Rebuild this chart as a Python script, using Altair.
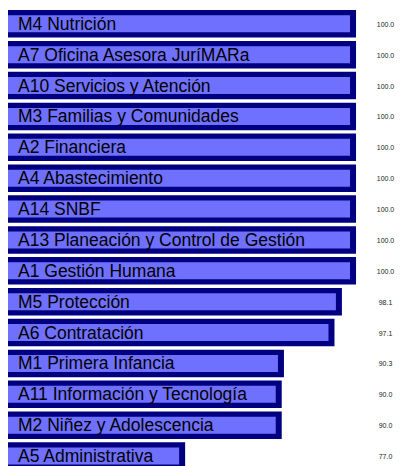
import altair as alt
import pandas as pd

categories = [
    "M4 Nutrición",
    "A7 Oficina Asesora JuríMARa",
    "A10 Servicios y Atención",
    "M3 Familias y Comunidades",
    "A2 Financiera",
    "A4 Abastecimiento",
    "A14 SNBF",
    "A13 Planeación y Control de Gestión",
    "A1 Gestión Humana",
    "M5 Protección",
    "A6 Contratación",
    "M1 Primera Infancia",
    "A11 Información y Tecnología",
    "M2 Niñez y Adolescencia",
    "A5 Administrativa",
]
values = [100.0, 100.0, 100.0, 100.0, 100.0, 100.0, 100.0, 100.0, 100.0,
          98.1, 97.1, 90.3, 90.0, 90.0, 77.0]

df = pd.DataFrame({"cat": categories, "val": values})

x_scale = alt.Scale(domain=[53.16, 105.245], nice=False, zero=False)
y_scale = alt.Scale(range=[0, 463.8], paddingInner=0.109, paddingOuter=0.0648)

base = alt.Chart(df).encode(
    y=alt.Y("cat:N", sort=categories, scale=y_scale, axis=None),
)

outer = base.mark_bar(color="#000080").encode(
    x=alt.X("val:Q", scale=x_scale, axis=None),
    x2=alt.value(1),
)

inner = base.mark_bar(color="#7070FF", size=17, xOffset=-6, x2Offset=6).encode(
    x=alt.X("val:Q", scale=x_scale, axis=None),
    x2=alt.value(1),
)

labels = base.mark_text(
    align="left", baseline="middle", font="Liberation Sans",
    fontSize=17.5, color="#000000", dy=1,
).encode(
    x=alt.value(10),
    text="cat:N",
)

vals = base.mark_text(
    align="center", baseline="middle", font="Liberation Sans",
    fontSize=7, color="#222222", dy=1,
).encode(
    x=alt.value(377.5),
    text=alt.Text("val:Q", format=".1f"),
)

chart = alt.layer(outer, inner, labels, vals).properties(
    width=387, height=458, padding=0,
    autosize=alt.AutoSizeParams(type="none"),
).configure_view(stroke=None)

chart.save("out.html", embed_options={"renderer": "svg", "actions": False})
